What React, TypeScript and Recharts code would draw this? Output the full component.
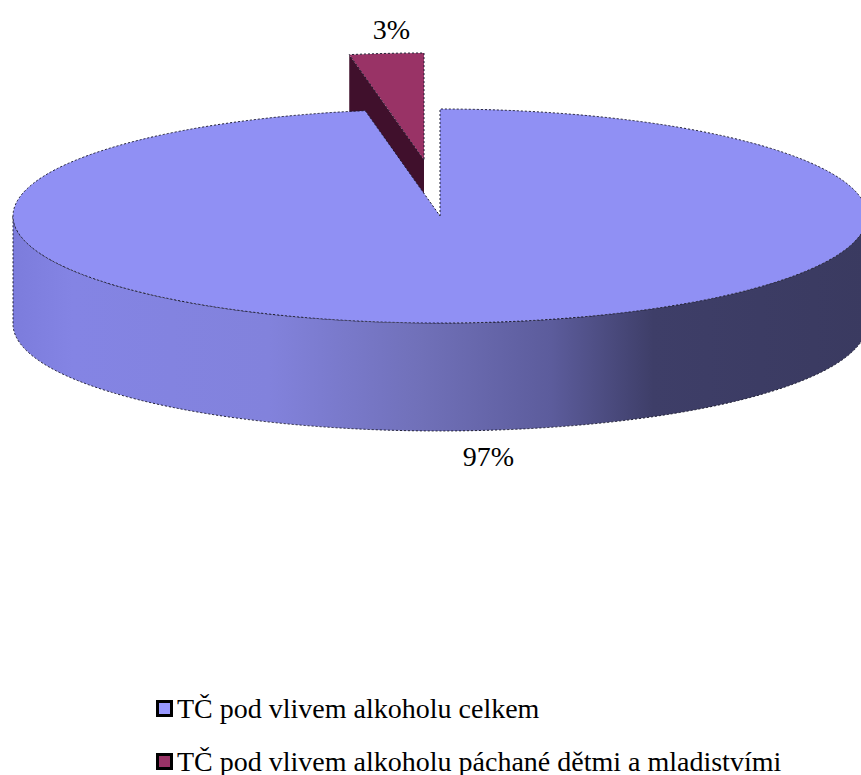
import { PieChart, Pie, Legend } from 'recharts'

const CATEGORIES = ['TČ pod vlivem alkoholu páchané dětmi a mladistvími', 'TČ pod vlivem alkoholu celkem']
const SHARES = [2.8, 97.2]
const TOP_COLORS = ['#993366', '#9090f4']
const WALL_COLORS = ['#40102c', '#8080e0']
const LEGEND_COLORS = ['#993366', '#9999ff']
const LEGEND_ORDER = [1, 0]

const CX = 440
const CY = 216
const RX = 427
const TILT = 107 / 427
const DEPTH = 108
const EXPLODE = [{ dx: -16, dy: -56 }, { dx: 0, dy: 0 }]
const LABEL_NUDGE = [5, 11]
const SERIF = '"Liberation Serif", serif'

const SIDE_STOPS = [
  ['0', '#7c7cdc'],
  ['0.07', '#8484e4'],
  ['0.3', '#8282dc'],
  ['0.48', '#7070b8'],
  ['0.63', '#5c5c9c'],
  ['0.75', '#3e3e68'],
  ['1', '#3a3a60'],
]

const pieData = CATEGORIES.map((name, i) => ({ name, value: SHARES[i], fill: TOP_COLORS[i] }))

function rim(cx: number, cy: number, angle: number) {
  const a = (angle * Math.PI) / 180
  return { x: cx + RX * Math.cos(a), y: cy - RX * TILT * Math.sin(a) }
}

function SliceShape(props: any) {
  const { startAngle, endAngle, index, fill } = props
  const cx = CX + EXPLODE[index].dx
  const cy = CY + EXPLODE[index].dy
  const ry = RX * TILT
  const s = rim(cx, cy, startAngle)
  const e = rim(cx, cy, endAngle)
  const large = Math.abs(startAngle - endAngle) > 180 ? 1 : 0
  const top = `M${cx},${cy}L${s.x},${s.y}A${RX},${ry} 0 ${large} 1 ${e.x},${e.y}Z`
  const line = { stroke: '#1c1c30', strokeWidth: 1, strokeDasharray: '2 2' }

  const from = Math.min(startAngle, 0)
  const to = Math.max(endAngle, -180)
  if (from > to) {
    // front wall of the big slice
    const a = rim(cx, cy, to)
    const b = rim(cx, cy, from)
    const wall = `M${a.x},${a.y}A${RX},${ry} 0 0 0 ${b.x},${b.y}L${b.x},${b.y + DEPTH}A${RX},${ry} 0 0 1 ${a.x},${a.y + DEPTH}Z`
    return (
      <g>
        <defs>
          <linearGradient id="sideWall" gradientUnits="userSpaceOnUse" x1={CX - RX} y1="0" x2={CX + RX} y2="0">
            {SIDE_STOPS.map(([o, c]) => <stop key={o} offset={o} stopColor={c} />)}
          </linearGradient>
        </defs>
        <path d={wall} fill="url(#sideWall)" {...line} />
        <path d={top} fill={fill} {...line} />
      </g>
    )
  }

  // the exploded slice only shows its cut face
  const face = `M${cx},${cy}L${s.x},${s.y}L${s.x},${s.y + DEPTH}L${cx},${cy + DEPTH}Z`
  return (
    <g>
      <path d={face} fill={WALL_COLORS[index]} />
      <path d={top} fill={fill} {...line} />
    </g>
  )
}

function renderLabel(props: any) {
  const { midAngle, index, percent } = props
  const cx = CX + EXPLODE[index].dx + LABEL_NUDGE[index]
  const cy = CY + EXPLODE[index].dy
  const p = rim(cx, cy, midAngle)
  const below = Math.sin((midAngle * Math.PI) / 180) < 0
  return (
    <text
      x={p.x}
      y={below ? p.y + DEPTH + 26 : p.y - 24}
      textAnchor="middle"
      dominantBaseline="central"
      fontFamily={SERIF}
      fontSize={28}
      fill="#000"
    >
      {`${Math.round(percent * 100)}%`}
    </text>
  )
}

function LegendList() {
  return (
    <div style={{ fontFamily: SERIF, fontSize: 28, color: '#000' }}>
      {LEGEND_ORDER.map((i) => (
        <div key={i} style={{ display: 'flex', alignItems: 'center', height: 53 }}>
          <span
            style={{
              width: 11,
              height: 11,
              border: '3px solid #000',
              background: LEGEND_COLORS[i],
              marginRight: 4,
              flex: 'none',
            }}
          />
          <span style={{ whiteSpace: 'nowrap' }}>{CATEGORIES[i]}</span>
        </div>
      ))}
    </div>
  )
}

export default function App() {
  return (
    <div style={{ position: 'absolute', left: 0, top: 0, width: 861, height: 775, background: '#fff' }}>
      <PieChart width={861} height={775} margin={{ top: 0, right: 0, bottom: 0, left: 0 }}>
        <Pie
          data={pieData}
          dataKey="value"
          nameKey="name"
          cx={CX}
          cy={CY}
          innerRadius={0}
          outerRadius={RX}
          startAngle={90 + (SHARES[0] / 100) * 360}
          endAngle={-270 + (SHARES[0] / 100) * 360}
          shape={SliceShape}
          label={renderLabel}
          labelLine={false}
          stroke="none"
          isAnimationActive={false}
        />
        <Legend
          layout="vertical"
          content={<LegendList />}
          wrapperStyle={{ left: 156, top: 682, width: 700, bottom: 'auto' }}
        />
      </PieChart>
    </div>
  )
}
